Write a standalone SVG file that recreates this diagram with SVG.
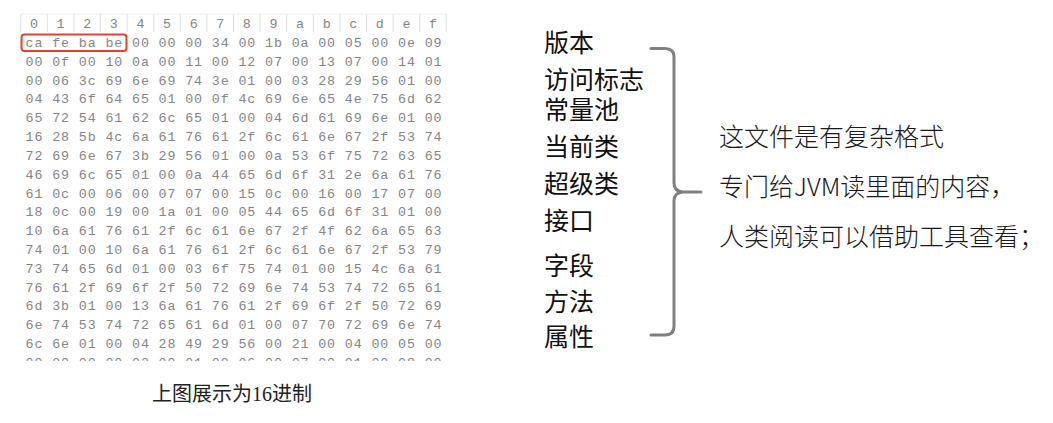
<svg xmlns="http://www.w3.org/2000/svg" width="1053" height="423" viewBox="0 0 1053 423">
<style>
.hex{font-family:"Liberation Mono","Courier New",monospace;font-size:13.33px;fill:#858585;letter-spacing:0.87px;white-space:pre}
.sep{stroke:#e0e0e0;stroke-width:1}
.lbl{font-family:"Noto Sans CJK SC","Noto Sans",sans-serif;font-size:25px;fill:#111}
.desc{font-family:"Noto Sans CJK SC","Noto Sans",sans-serif;font-size:25px;fill:#1a1a1a;font-weight:300}
.cap{font-family:"Liberation Serif","Noto Sans CJK SC",serif;font-size:20px;fill:#222}
.brace{fill:none;stroke:#808080;stroke-width:3;stroke-linecap:round;stroke-linejoin:round}
</style>
<defs>
<clipPath id="dumpclip"><rect x="0" y="0" width="460" height="361"/></clipPath>
</defs>
<rect width="1053" height="423" fill="#fff"/>
<g id="hex-dump" clip-path="url(#dumpclip)">
<g id="hex-header">
<line x1="20.7" y1="14" x2="446.3" y2="14" stroke="#f0f0f0" stroke-width="1"/>
<g class="sep">
<line x1="20.7" y1="14" x2="20.7" y2="32"/><line x1="47.3" y1="14" x2="47.3" y2="32"/><line x1="73.9" y1="14" x2="73.9" y2="32"/><line x1="100.5" y1="14" x2="100.5" y2="32"/><line x1="127.1" y1="14" x2="127.1" y2="32"/><line x1="153.7" y1="14" x2="153.7" y2="32"/><line x1="180.3" y1="14" x2="180.3" y2="32"/><line x1="206.9" y1="14" x2="206.9" y2="32"/><line x1="233.5" y1="14" x2="233.5" y2="32"/><line x1="260.1" y1="14" x2="260.1" y2="32"/><line x1="286.7" y1="14" x2="286.7" y2="32"/><line x1="313.3" y1="14" x2="313.3" y2="32"/><line x1="339.9" y1="14" x2="339.9" y2="32"/><line x1="366.5" y1="14" x2="366.5" y2="32"/><line x1="393.1" y1="14" x2="393.1" y2="32"/><line x1="419.7" y1="14" x2="419.7" y2="32"/><line x1="446.3" y1="14" x2="446.3" y2="32"/>
</g>
<text class="hex" x="30" y="28">0  1  2  3  4  5  6  7  8  9  a  b  c  d  e  f</text>
</g>
<g id="hex-rows">
<text class="hex" x="25.6" y="47">ca fe ba be 00 00 00 34 00 1b 0a 00 05 00 0e 09</text>
<text class="hex" x="25.6" y="65.8">00 0f 00 10 0a 00 11 00 12 07 00 13 07 00 14 01</text>
<text class="hex" x="25.6" y="84.6">00 06 3c 69 6e 69 74 3e 01 00 03 28 29 56 01 00</text>
<text class="hex" x="25.6" y="103.4">04 43 6f 64 65 01 00 0f 4c 69 6e 65 4e 75 6d 62</text>
<text class="hex" x="25.6" y="122.2">65 72 54 61 62 6c 65 01 00 04 6d 61 69 6e 01 00</text>
<text class="hex" x="25.6" y="141.1">16 28 5b 4c 6a 61 76 61 2f 6c 61 6e 67 2f 53 74</text>
<text class="hex" x="25.6" y="159.9">72 69 6e 67 3b 29 56 01 00 0a 53 6f 75 72 63 65</text>
<text class="hex" x="25.6" y="178.7">46 69 6c 65 01 00 0a 44 65 6d 6f 31 2e 6a 61 76</text>
<text class="hex" x="25.6" y="197.5">61 0c 00 06 00 07 07 00 15 0c 00 16 00 17 07 00</text>
<text class="hex" x="25.6" y="216.3">18 0c 00 19 00 1a 01 00 05 44 65 6d 6f 31 01 00</text>
<text class="hex" x="25.6" y="235.1">10 6a 61 76 61 2f 6c 61 6e 67 2f 4f 62 6a 65 63</text>
<text class="hex" x="25.6" y="253.9">74 01 00 10 6a 61 76 61 2f 6c 61 6e 67 2f 53 79</text>
<text class="hex" x="25.6" y="272.7">73 74 65 6d 01 00 03 6f 75 74 01 00 15 4c 6a 61</text>
<text class="hex" x="25.6" y="291.5">76 61 2f 69 6f 2f 50 72 69 6e 74 53 74 72 65 61</text>
<text class="hex" x="25.6" y="310.3">6d 3b 01 00 13 6a 61 76 61 2f 69 6f 2f 50 72 69</text>
<text class="hex" x="25.6" y="329.2">6e 74 53 74 72 65 61 6d 01 00 07 70 72 69 6e 74</text>
<text class="hex" x="25.6" y="348">6c 6e 01 00 04 28 49 29 56 00 21 00 04 00 05 00</text>
<text class="hex" x="25.6" y="366.8">00 00 00 00 02 00 01 00 06 00 07 00 01 00 08 00</text>
</g>
<rect id="magic-highlight" x="21.5" y="34.5" width="105" height="16.5" rx="3" fill="none" stroke="#e0442f" stroke-width="2"/>
</g>
<g id="labels">
<text class="lbl" x="544" y="52">版本</text>
<text class="lbl" x="544" y="88.5">访问标志</text>
<text class="lbl" x="544" y="118.5">常量池</text>
<text class="lbl" x="544" y="156">当前类</text>
<text class="lbl" x="544" y="193">超级类</text>
<text class="lbl" x="544" y="229.5">接口</text>
<text class="lbl" x="544" y="274.5">字段</text>
<text class="lbl" x="544" y="311">方法</text>
<text class="lbl" x="544" y="346">属性</text>
</g>
<g id="connectors">
<path class="brace" d="M651,48.5 H665 Q674,48.5 674,57 V183 Q674,191.5 683,192 H701 M683,192 Q674,192.5 674,201 V326 Q674,335 665,335 H651"/>
</g>
<g id="description">
<text class="desc" x="719" y="146">这文件是有复杂格式</text>
<text class="desc" x="719" y="196">专门给JVM读里面的内容，</text>
<text class="desc" x="719" y="246">人类阅读可以借助工具查看；</text>
</g>
<g id="caption">
<text class="cap" x="152" y="400.5">上图展示为16进制</text>
</g>
</svg>
